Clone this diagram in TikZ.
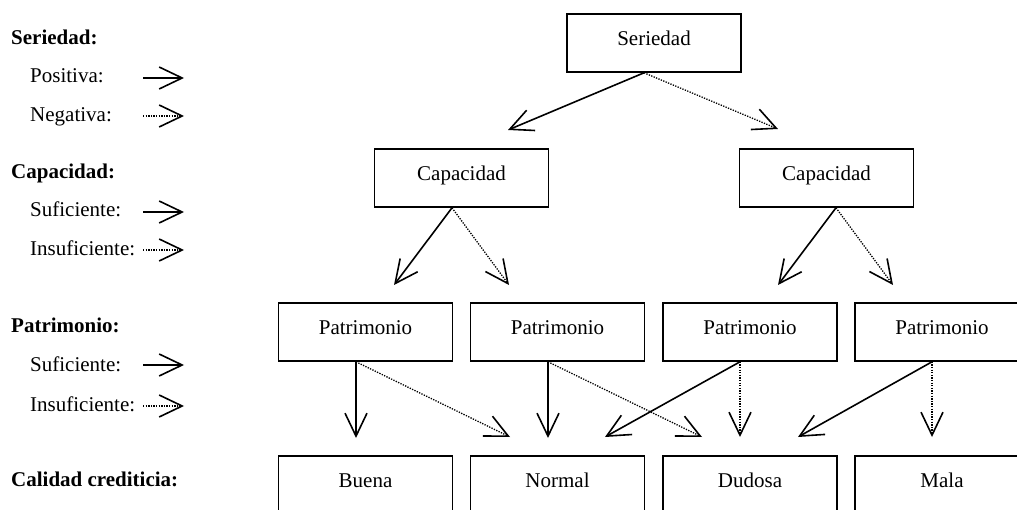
\documentclass[tikz,border=0pt]{standalone}
\usepackage{fontspec}
\setmainfont{Liberation Serif}
\usetikzlibrary{arrows.meta}
\tikzset{
  box/.style={draw, line width=1.6pt, minimum width=174pt, minimum height=58pt, inner sep=0pt,
    text height=14pt, text depth=9pt, font=\fontsize{21}{25}\selectfont},
  lbl/.style={anchor=base west, inner sep=0pt, font=\fontsize{21}{25}\selectfont},
  hdr/.style={lbl, font=\fontsize{21}{25}\selectfont\bfseries},
  posarrow/.style={line width=1.6pt, -{Straight Barb[length=23pt,width=22pt]}},
  negarrow/.style={line width=1.3pt, dash pattern=on 1.3pt off 1.3pt,
    -{Straight Barb[length=23pt,width=22pt,line width=1.6pt]}}
}
\begin{document}
\begin{tikzpicture}[x=1pt,y=-1pt]
\useasboundingbox (0,0) rectangle (1017,510);
\clip (0,0) rectangle (1017,510);

% legend
\node[hdr] (lser) at (11,45) {Seriedad:};
\node[lbl] (lpos) at (30,83) {Positiva:};
\node[lbl] (lneg) at (30,122) {Negativa:};
\node[hdr] (lcap) at (11,179) {Capacidad:};
\node[lbl] (lsuf1) at (30,217) {Suficiente:};
\node[lbl] (lins1) at (30,256) {Insuficiente:};
\node[hdr] (lpat) at (11,333) {Patrimonio:};
\node[lbl] (lsuf2) at (30,371) {Suficiente:};
\node[lbl] (lins2) at (30,411) {Insuficiente:};
\node[hdr] (lcal) at (11,486) {Calidad crediticia:};

\coordinate (a1s) at (143,78);  \coordinate (a1e) at (184,78);
\coordinate (a2s) at (143,116); \coordinate (a2e) at (184,116);
\coordinate (a3s) at (143,212); \coordinate (a3e) at (184,212);
\coordinate (a4s) at (143,250); \coordinate (a4e) at (184,250);
\coordinate (a5s) at (143,365); \coordinate (a5e) at (184,365);
\coordinate (a6s) at (143,406); \coordinate (a6e) at (184,406);
\draw[posarrow] (a1s) -- (a1e);
\draw[negarrow] (a2s) -- (a2e);
\draw[posarrow] (a3s) -- (a3e);
\draw[negarrow] (a4s) -- (a4e);
\draw[posarrow] (a5s) -- (a5e);
\draw[negarrow] (a6s) -- (a6e);

% boxes
\node[box] (ser) at (654,43) {Seriedad};
\node[box] (capL) at (461.5,178) {Capacidad};
\node[box] (capR) at (826.5,178) {Capacidad};
\node[box] (p1) at (365.5,332) {Patrimonio};
\node[box] (p2) at (557.5,332) {Patrimonio};
\node[box] (p3) at (750,332) {Patrimonio};
\node[box] (p4) at (942,332) {Patrimonio};
\node[box] (buena) at (365.5,485) {Buena};
\node[box] (normal) at (557.5,485) {Normal};
\node[box] (dudosa) at (750,485) {Dudosa};
\node[box] (mala) at (942,485) {Mala};

% arrow tips
\coordinate (tSL) at (508,130); \coordinate (tSR) at (778,129);
\coordinate (tCL1) at (394,285); \coordinate (tCL2) at (509,285);
\coordinate (tCR1) at (778,285); \coordinate (tCR2) at (893,285);
\coordinate (tB) at (356,438);   \coordinate (tN1) at (510,437);
\coordinate (tN2) at (548,438);  \coordinate (tD1) at (702,437);
\coordinate (tN3) at (605,437);  \coordinate (tD2) at (740,437);
\coordinate (tD3) at (798,437);  \coordinate (tM) at (932,437);

\draw[posarrow] ([xshift=-10pt]ser.south) -- (tSL);
\draw[negarrow] ([xshift=-10pt]ser.south) -- (tSR);
\draw[posarrow] ([xshift=-9.5pt]capL.south) -- (tCL1);
\draw[negarrow] ([xshift=-9.5pt]capL.south) -- (tCL2);
\draw[posarrow] ([xshift=9.5pt]capR.south) -- (tCR1);
\draw[negarrow] ([xshift=9.5pt]capR.south) -- (tCR2);
\draw[posarrow] ([xshift=-9.5pt]p1.south) -- (tB);
\draw[negarrow] ([xshift=-9.5pt]p1.south) -- (tN1);
\draw[posarrow] ([xshift=-9.5pt]p2.south) -- (tN2);
\draw[negarrow] ([xshift=-9.5pt]p2.south) -- (tD1);
\draw[posarrow] ([xshift=-10pt]p3.south) -- (tN3);
\draw[negarrow] ([xshift=-10pt]p3.south) -- (tD2);
\draw[posarrow] ([xshift=-10pt]p4.south) -- (tD3);
\draw[negarrow] ([xshift=-10pt]p4.south) -- (tM);
\end{tikzpicture}
\end{document}
